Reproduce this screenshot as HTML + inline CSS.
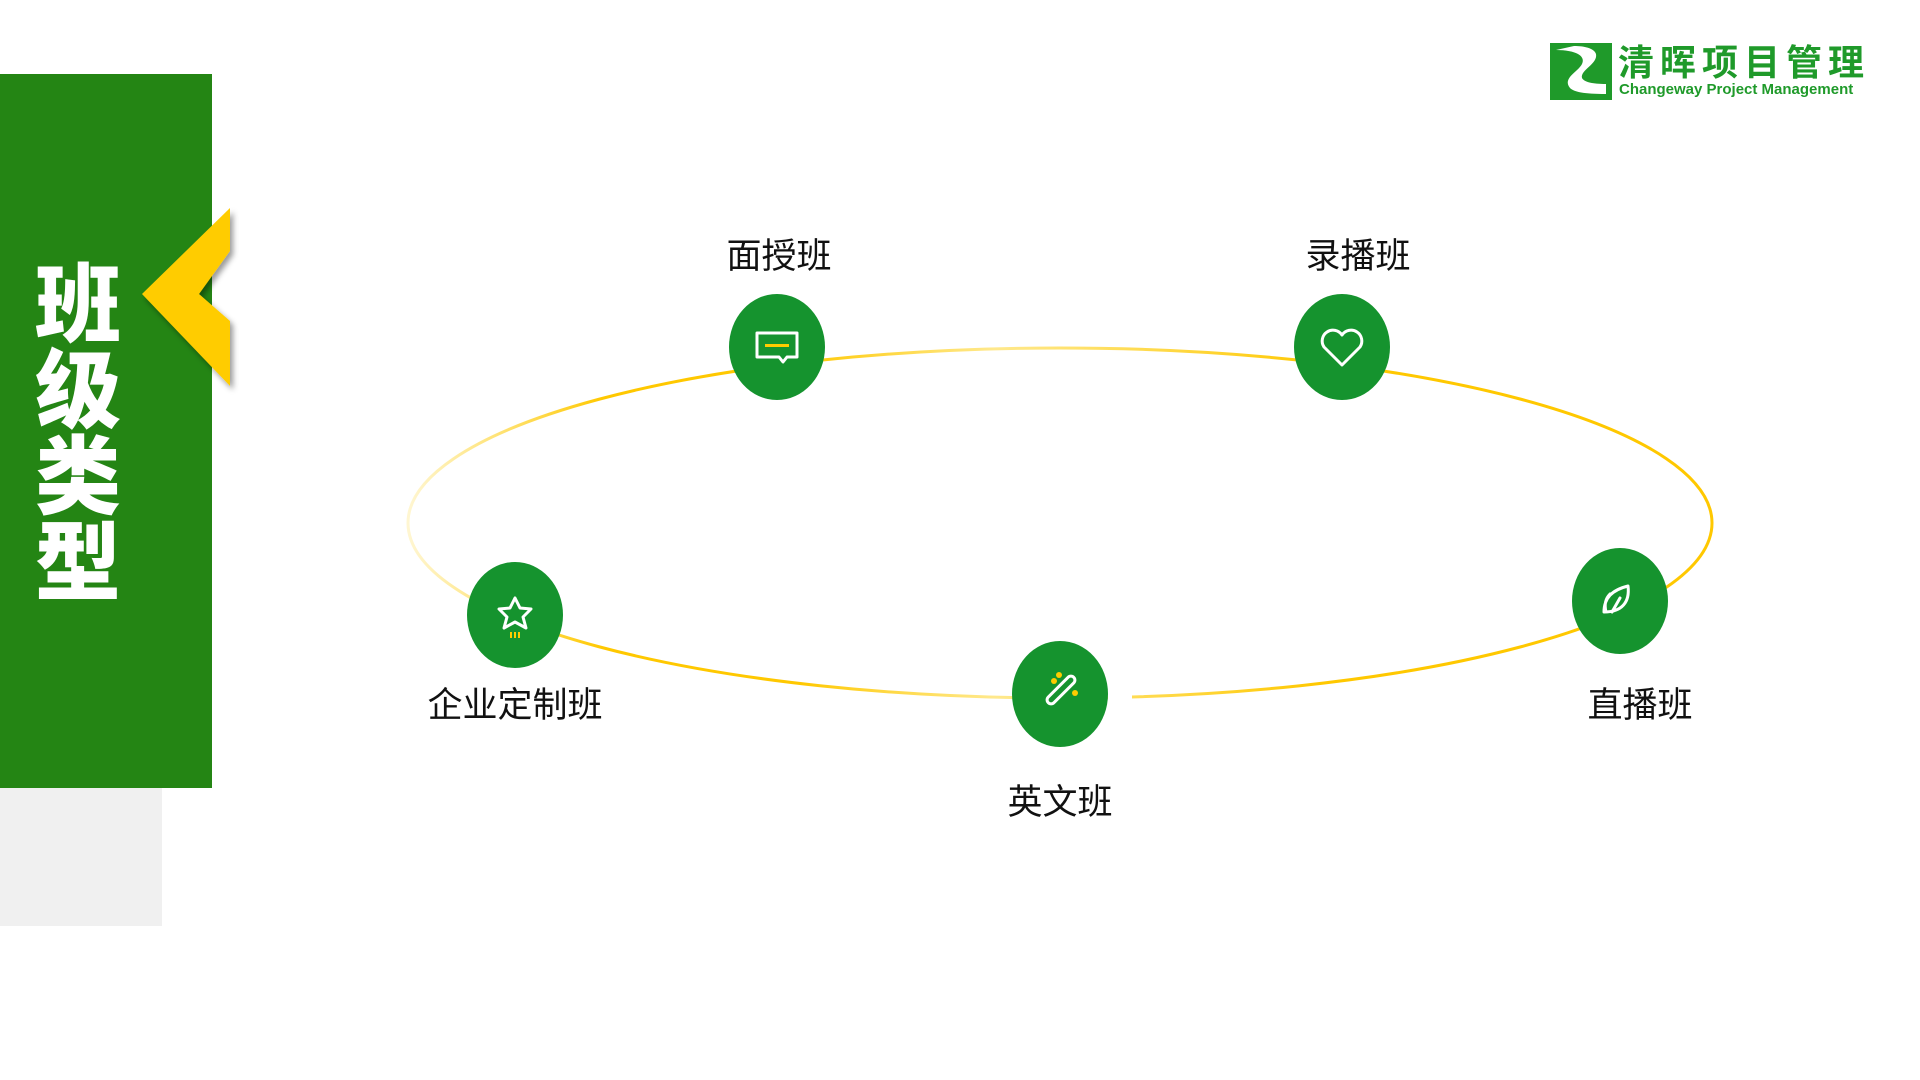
<!DOCTYPE html>
<html><head><meta charset="utf-8"><style>
body{margin:0;width:1920px;height:1080px;background:#fff;position:relative;overflow:hidden;font-family:"Liberation Sans","Noto Sans CJK SC",sans-serif}
.lbl{position:absolute;font-size:35px;color:#111;transform:translateX(-50%);white-space:nowrap;line-height:1}
</style></head><body>
<div style="position:absolute;left:0;top:788px;width:162px;height:138px;background:#f0f0f0"></div>
<div style="position:absolute;left:0;top:74px;width:212px;height:714px;background:#248514"></div>
<div style="position:absolute;left:26px;top:255px;width:104px;font-size:86px;line-height:86px;font-weight:900;color:#fff;text-align:center;font-family:'Noto Sans CJK SC',sans-serif">班<br>级<br>类<br>型</div>
<svg width="1920" height="1080" style="position:absolute;left:0;top:0">
<defs>
<filter id="sh"><feDropShadow dx="3" dy="4" stdDeviation="3" flood-opacity="0.4"/></filter>
<linearGradient id="g" x1="0" y1="0" x2="1" y2="0">
<stop offset="0" stop-color="#ffd21a" stop-opacity="0.2"/><stop offset="0.15" stop-color="#ffc800"/><stop offset="0.3" stop-color="#ffc800"/><stop offset="0.45" stop-color="#ffd21a" stop-opacity="0.5"/><stop offset="0.7" stop-color="#ffc800"/><stop offset="1" stop-color="#ffc800"/>
</linearGradient>
</defs>
<polygon points="230,208 230,251 199,294 230,321 230,386 142,294" fill="#ffcc00" filter="url(#sh)"/>
<ellipse cx="1060" cy="523" rx="652" ry="175" fill="none" stroke="url(#g)" stroke-width="3"/>
<rect x="1108" y="685" width="24" height="20" fill="#fff"/>
<g fill="#15932e">
<ellipse cx="777" cy="347" rx="48" ry="53"/>
<ellipse cx="1342" cy="347" rx="48" ry="53"/>
<ellipse cx="515" cy="615" rx="48" ry="53"/>
<ellipse cx="1060" cy="694" rx="48" ry="53"/>
<ellipse cx="1620" cy="601" rx="48" ry="53"/>
</g>
<g fill="none" stroke="#fff" stroke-width="3" stroke-linejoin="round" stroke-linecap="round">
<path d="M757 333 h40 v24 h-10 l-4 5 -4-5 h-22 z"/>
<path d="M1342 365 l-18-18 a10 10 0 0 1 18-12 a10 10 0 0 1 18 12 z"/>
<path d="M515 598 l5 10 11 1 -8 8 3 11 -11-6 -11 6 3-11 -8-8 11-1 z"/>
<rect x="1043" y="686" width="36" height="8" rx="4" transform="rotate(-45 1061 690)"/>
<path d="M1604 612 c0-14 8-22 24-26 c2 16 -6 26 -24 26 z M1610 594 c-4 4 -6 10 -4 18 M1612 612 l8-14"/>
</g>
<g fill="#ffcc00"><rect x="765" y="344" width="24" height="3"/><circle cx="1054" cy="681" r="3"/><circle cx="1059" cy="675" r="3"/><circle cx="1075" cy="693" r="3"/><rect x="510" y="632" width="2" height="6"/><rect x="514" y="632" width="2" height="6"/><rect x="518" y="632" width="2" height="6"/></g>
<rect x="1550" y="43" width="62" height="57" fill="#1f9a2a"/>
<path d="M1556 50 c20 0 30 6 26 14 c-4 8 -20 14 -12 24 c4 4 14 6 36 6 v-10 c-14 0 -22 -2 -24 -6 c-2 -8 16 -14 14 -24 c-2 -6 -12 -8 -22 -8 z" fill="#fff"/>
</svg>
<div style="position:absolute;left:1618px;top:42px;font-size:36px;font-weight:bold;color:#1f9a2a;letter-spacing:6px;line-height:1;font-family:'Noto Sans CJK SC',sans-serif">清晖项目管理</div>
<div style="position:absolute;left:1619px;top:82px;font-size:15px;font-weight:bold;color:#1f9a2a;line-height:1">Changeway Project Management</div>
<div class="lbl" style="left:779px;top:239px">面授班</div>
<div class="lbl" style="left:1358px;top:239px">录播班</div>
<div class="lbl" style="left:515px;top:688px">企业定制班</div>
<div class="lbl" style="left:1060px;top:785px">英文班</div>
<div class="lbl" style="left:1640px;top:688px">直播班</div>
</body></html>
